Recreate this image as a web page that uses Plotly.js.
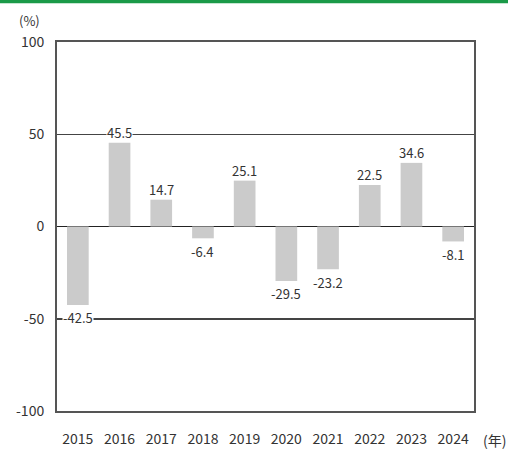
<!DOCTYPE html>
<html><head><meta charset="utf-8">
<script src="https://cdn.plot.ly/plotly-3.0.1.min.js"></script>
<style>html,body{margin:0;padding:0;background:#fff;}#chart{width:508px;height:450px;}</style>
</head><body><div id="chart"></div>
<script>
const years = [2015, 2016, 2017, 2018, 2019, 2020, 2021, 2022, 2023, 2024];
const values = [-42.5, 45.5, 14.7, -6.4, 25.1, -29.5, -23.2, 22.5, 34.6, -8.1];
const labels = ["-42.5","45.5","14.7","-6.4","25.1","-29.5","-23.2","22.5","34.6","-8.1"];
const yTicks = [-100, -50, 0, 50, 100];
const yTickText = ["-100", "-50", "0", "50", "100"];
const boundaries = years.slice(0, -1).map(y => y + 0.5);

const font = "'Noto Sans CJK JP', 'Noto Sans', sans-serif";

const annotations = years.map((y, i) => ({
  x: y, y: values[i], xref: 'x', yref: 'y',
  text: labels[i], showarrow: false,
  yshift: values[i] >= 0 ? 10 : -13,
  bgcolor: 'rgba(255,255,255,1)', borderpad: 0,
  font: {family: font, size: 13, color: '#333'}
}));
annotations.push({xref:'paper', yref:'paper', x:-0.065, y:1.0, yanchor:'middle', yshift:22, text:'(%)', showarrow:false, xanchor:'center',
  font:{family:font, size:13, color:'#333'}});
annotations.push({xref:'paper', yref:'paper', x:1.0, y:0, yanchor:'middle', yshift:-29, xshift:20, text:'(年)', showarrow:false, xanchor:'center',
  font:{family:font, size:14, color:'#333'}});

const data = [{
  type: 'bar', x: years, y: values,
  marker: {color: '#cbcbcb'}, width: 0.52,
  hoverinfo: 'none'
}];

const xRange = [years[0] - 0.5, years[years.length - 1] + 0.5];

const layout = {
  width: 508, height: 450,
  margin: {l: 57, r: 34, t: 42, b: 39},
  paper_bgcolor: '#fff', plot_bgcolor: '#fff',
  showlegend: false,
  xaxis: {
    type: 'linear', range: xRange, tickvals: years, ticktext: years.map(String),
    showgrid: false, zeroline: false,
    showline: true, mirror: true, linecolor: '#555', linewidth: 2,
    ticks: '', tickfont: {family: font, size: 14, color: '#333'},
    ticklabelstandoff: 14
  },
  xaxis2: {
    overlaying: 'x', anchor: 'free', position: 0.5, side: 'top',
    type: 'linear', range: xRange, tickvals: boundaries,
    ticks: 'outside', ticklen: 4, tickcolor: '#333', tickwidth: 1.5,
    showticklabels: false, showgrid: false, zeroline: false, showline: false
  },
  yaxis: {
    range: [-100, 100], tickvals: yTicks, ticktext: yTickText,
    showgrid: true, gridcolor: '#444', gridwidth: 1.5,
    zeroline: true, zerolinecolor: '#222', zerolinewidth: 1.5,
    showline: true, mirror: true, linecolor: '#555', linewidth: 2,
    ticks: '', tickfont: {family: font, size: 14, color: '#333'},
    ticklabelstandoff: 8
  },
  shapes: [{type:'rect', xref:'paper', yref:'paper', x0:-0.15, x1:1.1, y0:1.105, y1:1.2, fillcolor:'#1a9a48', line:{width:0}, layer:'above'}],
  annotations: annotations
};
Plotly.newPlot('chart', data, layout, {staticPlot: true});
</script></body></html>
